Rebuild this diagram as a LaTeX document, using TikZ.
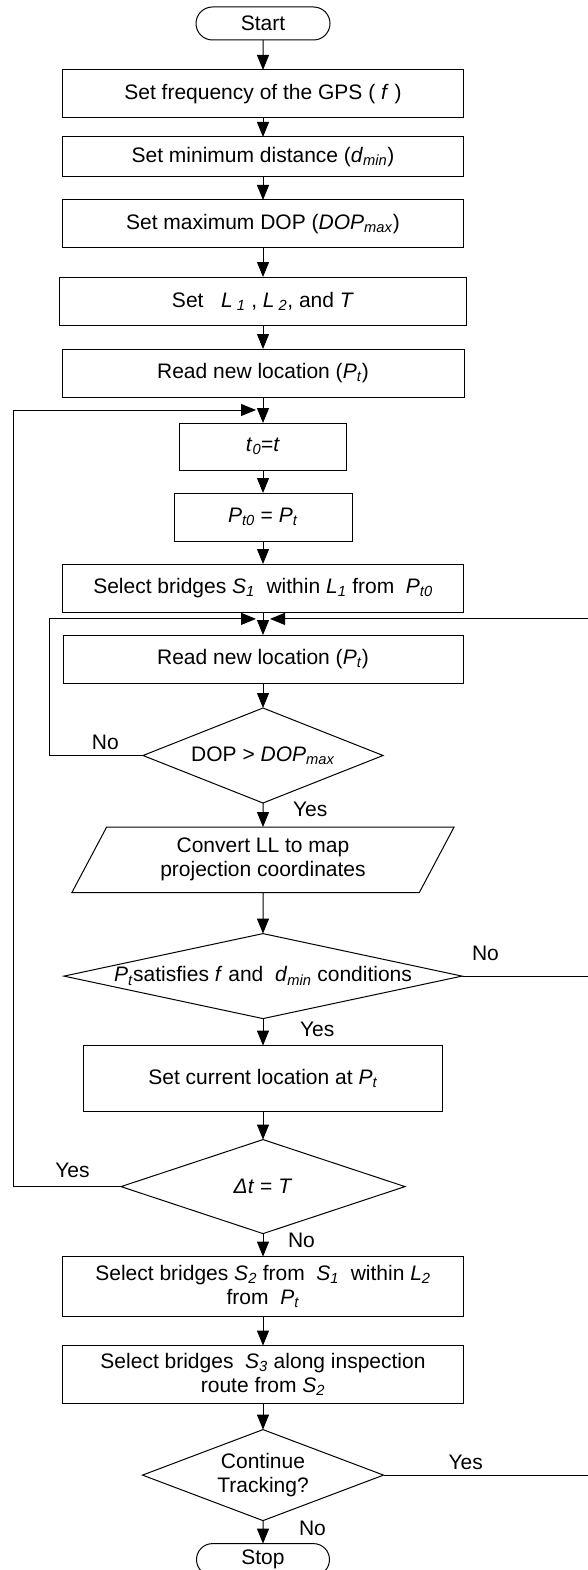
\documentclass[tikz,border=0pt]{standalone}
\usepackage{fontspec}
\setmainfont{Liberation Sans}
\usetikzlibrary{arrows.meta, positioning, shapes.geometric, shapes.misc, calc}
\newcommand{\vsub}[2]{\textit{#1}\textsubscript{\textit{#2}}}
\tikzset{%
	proc/.style={draw, rectangle, line width=1pt, minimum width=401pt, minimum height=48pt,%
		inner sep=0pt, outer sep=0pt, align=center},
	term/.style={draw, rounded rectangle, line width=1pt, minimum width=134pt, minimum height=33pt,%
		inner sep=0pt, outer sep=0pt},
	dec/.style={draw, diamond, line width=1pt, inner sep=0pt, outer sep=0pt, align=center},
	io/.style={draw, trapezium, trapezium left angle=62, trapezium right angle=118, line width=1pt,%
		minimum width=383pt, minimum height=62pt, inner sep=0pt, outer sep=0pt, align=center},
	flow/.style={-{Triangle[width=12pt,length=15pt]}, line width=1pt},
	connector/.style={line width=1pt},
	lbl/.style={inner sep=0pt, outer sep=0pt}
}

\begin{document}
\begin{tikzpicture}[x=1pt, y=1pt, font=\fontsize{21}{24}\selectfont, node distance=24pt]
	\useasboundingbox (0,0) rectangle (588,-1570);
	\coordinate (railL) at (13,0);
	\coordinate (railM) at (49,0);
	\coordinate (railR) at (600,0);

	\node[term] (start) at (263,-23.5) {Start};
	\node[proc, below=30pt of start]                       (gps)    {Set frequency of the GPS ( \textit{f} )};
	\node[proc, below=19pt of gps, minimum height=40pt]    (dmin)   {Set minimum distance (\vsub{d}{min})};
	\node[proc, below=23pt of dmin]                        (dopmax) {Set maximum DOP (\vsub{DOP}{max})};
	\node[proc, below=29pt of dopmax, minimum width=407pt] (lims)   {Set \ \ \vsub{L}{ 1} , \vsub{L}{ 2}, and \textit{T}};
	\node[proc, below=24pt of lims, minimum width=402pt]   (read1)  {Read new location (\vsub{P}{t})};
	\node[proc, below=26pt of read1, minimum width=167pt, minimum height=47pt] (tzero) {\vsub{t}{0}=\textit{t}};
	\node[proc, below=23pt of tzero, minimum width=178pt]  (pzero)  {\vsub{P}{t0} = \vsub{P}{t}};
	\node[proc, below=23pt of pzero]                       (sel1)   {Select bridges \vsub{S}{1} \ within \vsub{L}{1} from \ \vsub{P}{t0}};
	\node[proc, below=23pt of sel1, minimum width=400pt]   (read2)  {Read new location (\vsub{P}{t})};
	\node[dec, below=25pt of read2, minimum width=240pt, minimum height=95pt, aspect=2.53] (dopchk) {DOP > \vsub{DOP}{max}};
	\node[io, below=24pt of dopchk]                        (conv)   {Convert LL to map\\projection coordinates};
	\node[dec, below=41pt of conv, minimum width=398pt, minimum height=85pt, aspect=4.68] (sat) {\vsub{P}{t}satisfies \textit{f} and \ \vsub{d}{min} conditions};
	\node[proc, below=27pt of sat, minimum width=359pt, minimum height=66pt] (cur) {Set current location at \vsub{P}{t}};
	\node[dec, below=28pt of cur, minimum width=284pt, minimum height=94pt, aspect=3] (dtime) {\textit{Δt} = \textit{T}};
	\node[proc, below=23pt of dtime, minimum height=60pt]  (sel2)   {Select bridges \vsub{S}{2} from \ \vsub{S}{1} \ within \vsub{L}{2}\\from \ \vsub{P}{t}};
	\node[proc, below=29pt of sel2, minimum height=58pt]   (sel3)   {Select bridges \ \vsub{S}{3} along inspection\\route from \vsub{S}{2}};
	\node[dec, below=26pt of sel3, minimum width=241pt, minimum height=91pt, aspect=2.65] (cont) {Continue\\Tracking?};
	\node[term, below=23pt of cont, minimum width=133pt, minimum height=32pt] (stop) {Stop};

	\coordinate (m1) at ($(read1.south)!0.5!(tzero.north)$);
	\coordinate (m2) at ($(sel1.south)!0.3!(read2.north)$);

	\draw[flow] (start) -- (gps);
	\draw[flow] (gps) -- (dmin);
	\draw[flow] (dmin) -- (dopmax);
	\draw[flow] (dopmax) -- (lims);
	\draw[flow] (lims) -- (read1);
	\draw[flow] (read1) -- (tzero);
	\draw[flow] (tzero) -- (pzero);
	\draw[flow] (pzero) -- (sel1);
	\draw[flow] (sel1) -- (read2);
	\draw[flow] (read2) -- (dopchk);
	\draw[flow] (dopchk) -- node[lbl, pos=0.25, right=30pt]{Yes} (conv);
	\draw[flow] (conv) -- (sat);
	\draw[flow] (sat) -- node[lbl, pos=0.4, right=37pt]{Yes} (cur);
	\draw[flow] (cur) -- (dtime);
	\draw[flow] (dtime) -- node[lbl, pos=0.3, right=25pt]{No} (sel2);
	\draw[flow] (sel2) -- (sel3);
	\draw[flow] (sel3) -- (cont);
	\draw[flow] (cont) -- node[lbl, pos=0.35, right=36pt]{No} (stop);

	\draw[flow] (dopchk.west) -- node[lbl, pos=0.4, above=6pt]{No} (dopchk.west -| railM) |- ([xshift=-7pt]m2);
	\draw[flow] (sat.east) -- node[lbl, pos=0.17, above=15pt]{No} (sat.east -| railR) |- ([xshift=7pt]m2);
	\draw[connector] (cont.east) -- node[lbl, pos=0.38, above=5pt]{Yes} (cont.east -| railR);
	\draw[flow] (dtime.west) -- node[lbl, pos=0.45, above=9pt]{Yes} (dtime.west -| railL) |- ([xshift=-7pt]m1);
\end{tikzpicture}
\end{document}
